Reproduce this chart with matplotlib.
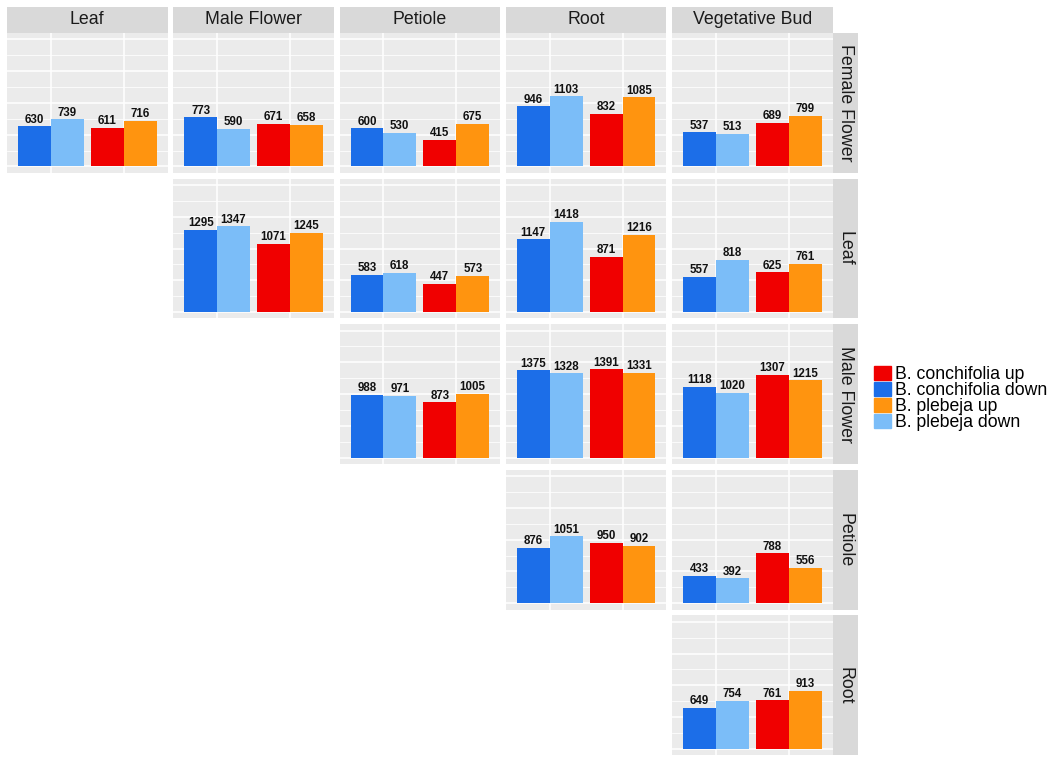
import matplotlib
matplotlib.use("Agg")
import matplotlib.pyplot as plt
from matplotlib.patches import Patch

plt.rcParams['font.family'] = ['Liberation Sans', 'DejaVu Sans']

# facet rows / columns (tissue pairs)
row_tissues = ["Female Flower", "Leaf", "Male Flower", "Petiole", "Root"]
col_tissues = ["Leaf", "Male Flower", "Petiole", "Root", "Vegetative Bud"]

# one entry per (row, col) panel, upper triangle only
panel_rows = [0, 0, 0, 0, 0, 1, 1, 1, 1, 2, 2, 2, 3, 3, 4]
panel_cols = [0, 1, 2, 3, 4, 1, 2, 3, 4, 2, 3, 4, 3, 4, 4]

conch_down = [630, 773, 600, 946, 537, 1295, 583, 1147, 557, 988, 1375, 1118, 876, 433, 649]
pleb_down = [739, 590, 530, 1103, 513, 1347, 618, 1418, 818, 971, 1328, 1020, 1051, 392, 754]
conch_up = [611, 671, 415, 832, 689, 1071, 447, 871, 625, 873, 1391, 1307, 950, 788, 761]
pleb_up = [716, 658, 675, 1085, 799, 1245, 573, 1216, 761, 1005, 1331, 1215, 902, 556, 913]

RED = "#F00000"
BLUE = "#1C6EE8"
ORANGE = "#FF940F"
LIGHTBLUE = "#7BBDF8"
PANEL_BG = "#EBEBEB"
STRIP_BG = "#D9D9D9"

W, H = 1059, 757
fig = plt.figure(figsize=(W / 100, H / 100), dpi=100)

# layout in pixels
left0, top0 = 7, 33
pw, ph = 160.5, 139.8
gap = 5.8
strip_h, strip_w = 26, 25


def px_axes(x, y, w, h):
    return fig.add_axes([x / W, 1 - (y + h) / H, w / W, h / H])


def plot_panel(ax, i):
    ax.set_facecolor(PANEL_BG)
    ax.set_xlim(0.4, 2.6)
    ax.set_ylim(-100, 2100)
    ax.set_yticks([0, 500, 1000, 1500, 2000])
    ax.set_yticks([250, 750, 1250, 1750], minor=True)
    ax.set_xticks([1, 2])
    ax.grid(True, which='major', color='white', linewidth=1.1)
    ax.grid(True, which='minor', axis='y', color='white', linewidth=0.55)
    ax.set_axisbelow(True)
    ax.tick_params(which='both', length=0, labelleft=False, labelbottom=False)
    for s in ax.spines.values():
        s.set_visible(False)

    bw = 0.45
    xs = [1 - bw / 2, 1 + bw / 2, 2 - bw / 2, 2 + bw / 2]
    vals = [conch_down[i], pleb_down[i], conch_up[i], pleb_up[i]]
    cols = [BLUE, LIGHTBLUE, RED, ORANGE]
    ax.bar(xs, vals, width=bw, color=cols, linewidth=0)
    for x, v in zip(xs, vals):
        ax.annotate(str(v), (x, v), xytext=(0, 2.6), textcoords='offset points',
                    ha='center', va='baseline', fontsize=8.3, fontweight='bold',
                    color='#111111')


for i in range(len(panel_rows)):
    r, c = panel_rows[i], panel_cols[i]
    ax = px_axes(left0 + c * (pw + gap), top0 + r * (ph + gap), pw, ph)
    plot_panel(ax, i)

# column strips
for c, name in enumerate(col_tissues):
    sax = px_axes(left0 + c * (pw + gap), top0 - strip_h, pw, strip_h)
    sax.set_facecolor(STRIP_BG)
    sax.set_xticks([])
    sax.set_yticks([])
    for s in sax.spines.values():
        s.set_visible(False)
    sax.text(0.5, 0.5, name, ha='center', va='center', fontsize=12.8,
             color='#1A1A1A', transform=sax.transAxes)

# row strips
for r, name in enumerate(row_tissues):
    sax = px_axes(left0 + 5 * (pw + gap) - gap, top0 + r * (ph + gap), strip_w, ph)
    sax.set_facecolor(STRIP_BG)
    sax.set_xticks([])
    sax.set_yticks([])
    for s in sax.spines.values():
        s.set_visible(False)
    sax.text(0.5, 0.5, name, ha='center', va='center', fontsize=12.8,
             rotation=-90, color='#1A1A1A', transform=sax.transAxes)

handles = [Patch(color=RED), Patch(color=BLUE), Patch(color=ORANGE), Patch(color=LIGHTBLUE)]
labels = ["B. conchifolia up", "B. conchifolia down", "B. plebeja up", "B. plebeja down"]
fig.legend(handles, labels, loc='center left', bbox_to_anchor=(874 / W, 1 - 398.5 / H),
           frameon=False, fontsize=12.7, handlelength=0.95, handleheight=0.85,
           handletextpad=0.25, labelspacing=-0.05, borderpad=0, borderaxespad=0)

fig.savefig("out.png", dpi=100)
